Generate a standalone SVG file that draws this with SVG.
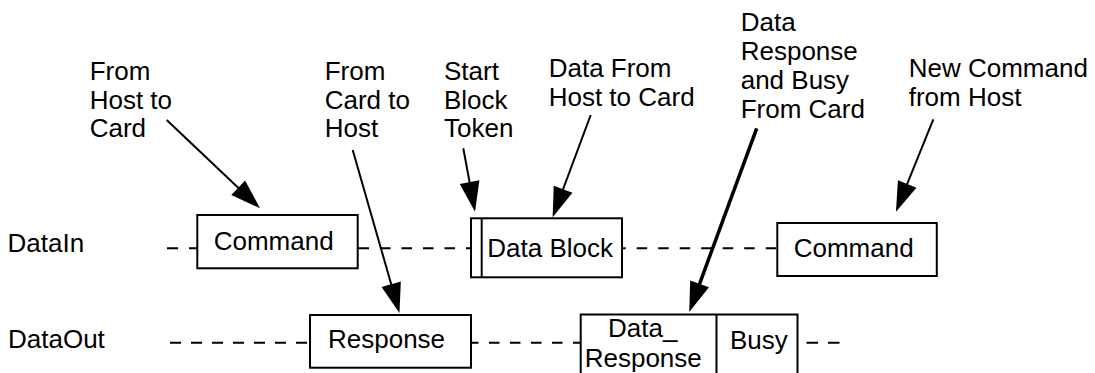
<svg xmlns="http://www.w3.org/2000/svg" width="1095" height="373" viewBox="0 0 1095 373">
<style>
text{font-family:"Liberation Sans",Arial,Helvetica,sans-serif;font-size:26px;fill:#000}
.box{fill:#fff;stroke:#000;stroke-width:2}
.div{stroke:#000;stroke-width:2}
.dash{stroke:#000;stroke-width:2;fill:none}
.arr{stroke:#000;stroke-width:2;fill:none;marker-end:url(#head)}
.arrb{stroke:#000;stroke-width:3.5;fill:none;marker-end:url(#head)}
</style>
<defs>
<marker id="head" markerUnits="userSpaceOnUse" markerWidth="32" markerHeight="22" refX="4" refY="10" orient="auto" overflow="visible">
<path d="M0,0 L30,10 L0,20 Z" fill="#000"/>
</marker>
</defs>
<rect width="1095" height="373" fill="#fff"/>

<g id="timelines">
<line class="dash" x1="167" y1="248.3" x2="197" y2="248.3" stroke-dasharray="11 11"/>
<line class="dash" x1="358.5" y1="248.3" x2="471" y2="248.3" stroke-dasharray="10.5 11"/>
<line class="dash" x1="622" y1="248.3" x2="777" y2="248.3" stroke-dasharray="10.5 11" stroke-dashoffset="6.8"/>
<line class="dash" x1="170" y1="342.7" x2="310" y2="342.7" stroke-dasharray="11 10"/>
<line class="dash" x1="471" y1="342.7" x2="581" y2="342.7" stroke-dasharray="10.5 10.5" stroke-dashoffset="3"/>
<line class="dash" x1="806.5" y1="342.7" x2="840" y2="342.7" stroke-dasharray="11.5 10"/>
</g>

<g id="label-datain"><text x="7.5" y="251.7">DataIn</text></g>
<g id="label-dataout"><text x="8" y="348.3">DataOut</text></g>

<g id="node-command1">
<rect class="box" x="197.3" y="215" width="160.4" height="53.3"/>
<text x="213.7" y="250">Command</text>
</g>
<g id="node-datablock">
<rect class="box" x="471" y="218.3" width="151" height="59"/>
<line class="div" x1="481.7" y1="218.3" x2="481.7" y2="277.3"/>
<text x="487.3" y="257.3">Data Block</text>
</g>
<g id="node-command2">
<rect class="box" x="777.3" y="223" width="159.5" height="53"/>
<text x="793.7" y="256.7">Command</text>
</g>
<g id="node-response">
<rect class="box" x="310" y="315" width="161" height="52.7"/>
<text x="328" y="348.3">Response</text>
</g>
<g id="node-dataresponse-busy">
<rect class="box" x="580.7" y="314.5" width="216.8" height="64"/>
<line class="div" x1="716.5" y1="314.5" x2="716.5" y2="378.5"/>
<text x="608" y="336.7">Data_</text>
<text x="584.7" y="367">Response</text>
<text x="730" y="349">Busy</text>
</g>

<g id="note-host-to-card">
<text x="89.7" y="80">From</text>
<text x="89.7" y="108.7">Host to</text>
<text x="89.7" y="137.3">Card</text>
</g>
<g id="note-card-to-host">
<text x="324.7" y="80">From</text>
<text x="324.7" y="108.7">Card to</text>
<text x="324.7" y="137.3">Host</text>
</g>
<g id="note-start-block">
<text x="444" y="80">Start</text>
<text x="444" y="108.7">Block</text>
<text x="444" y="137.3">Token</text>
</g>
<g id="note-data-from-host">
<text x="548.7" y="76.5">Data From</text>
<text x="548.7" y="105.5">Host to Card</text>
</g>
<g id="note-data-response">
<text x="740.7" y="30.5">Data</text>
<text x="740.7" y="59.5">Response</text>
<text x="740.7" y="88.5">and Busy</text>
<text x="740.7" y="117.5">From Card</text>
</g>
<g id="note-new-command">
<text x="908.7" y="76.5">New Command</text>
<text x="908.7" y="105.5">from Host</text>
</g>

<g id="connectors">
<line class="arr" x1="166.7" y1="120" x2="241.1" y2="190.4"/>
<line class="arr" x1="352.7" y1="150" x2="392.3" y2="288"/>
<line class="arr" x1="463.3" y1="148.3" x2="470.3" y2="186.1"/>
<line class="arr" x1="590.7" y1="115" x2="561.7" y2="192.9"/>
<line class="arrb" x1="756.7" y1="128.3" x2="698.2" y2="287.6"/>
<line class="arr" x1="933.3" y1="119.3" x2="905.7" y2="187.6"/>
</g>
</svg>
